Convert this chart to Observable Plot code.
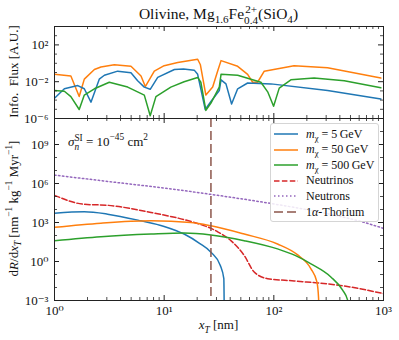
<!DOCTYPE html>
<html><head><meta charset="utf-8">
<script src="https://cdn.jsdelivr.net/npm/d3@7"></script>
<script src="https://cdn.jsdelivr.net/npm/@observablehq/plot@0.6"></script>
<style>
body{margin:0;background:#fff;}
#wrap{position:relative;width:399px;height:340px;font-family:"Liberation Serif","DejaVu Serif",serif;color:#111;overflow:hidden;}
#wrap svg{position:absolute;left:0;top:0;background:transparent;}
.abs{position:absolute;white-space:nowrap;line-height:1;}
.ss{display:inline-flex;flex-direction:column;vertical-align:0.5em;font-size:0.72em;line-height:1.0;}
sub,sup{font-size:0.72em;line-height:0;}
#legend{position:absolute;left:270px;top:123px;width:107px;height:97px;border:1px solid #d5d5d5;border-radius:3px;background:rgba(255,255,255,0.85);}
.row{position:absolute;left:3px;height:14px;font-size:12px;display:flex;align-items:center;white-space:nowrap;}
.row svg{position:static !important;margin-right:8px;}
</style></head><body>
<div id="wrap"></div>
<script>
// ---------------- data ----------------
const massLabels = ["5", "50", "500"];
const seriesColors = ["#1f77b4", "#ff7f0e", "#2ca02c"];

// top panel: information flux (A.U.)
const xTopBlue   = [1, 1.23, 1.63, 1.87, 2.15, 2.56, 2.85, 3.77, 4.98, 5.73, 6.59, 7.46, 8.73, 12.4, 15, 18.8, 20.2, 23.7, 26.7, 31.8, 33.0, 36.6, 41.2, 46.8, 57.7, 94.2, 309, 946];
const fluxBlue   = [1.6e-4, 1.7e-3, 3.8e-3, 1.7e-3, 6.0e-5, 1.9e-2, 5.0e-2, 0.14, 9.5e-2, 1.26e-2, 2.6e-3, 1.5e-3, 2.9e-2, 0.21, 0.24, 0.18, 6.3e-2, 9.5e-6, 7.1e-5, 1.1e-3, 1.6e-2, 5.8e-3, 3.7e-5, 1.7e-3, 7.2e-3, 5.8e-3, 1.1e-3, 1.3e-4];
const xTopOrange = [1, 1.41, 1.68, 1.87, 2.31, 2.65, 3.51, 4.98, 6.15, 6.73, 8.13, 10, 13.3, 20.2, 21.4, 24.0, 27.7, 30.7, 33.0, 46.8, 57.7, 64.1, 71.1, 81.8, 153, 309, 946];
const fluxOrange = [6.3e-2, 4.2e-2, 2.5e-4, 1.9e-2, 0.21, 0.40, 0.69, 0.47, 4.2e-2, 3.0e-3, 0.14, 0.55, 1.2, 2.75, 0.69, 3.5e-4, 2.6e-3, 0.14, 1.95, 0.47, 6.3e-2, 8.7e-3, 8.7e-3, 0.14, 0.55, 0.32, 2.5e-2];
const xTopGreen  = [1, 1.23, 1.41, 1.68, 1.87, 2.31, 3.16, 4.65, 6.59, 7.46, 8.41, 11.5, 15.2, 20.2, 21.6, 24.0, 26.7, 31.8, 33.0, 46.8, 76.2, 87.9, 99.5, 112, 143, 233, 439, 946];
const fluxGreen  = [1.1e-3, 9.1e-4, 2.4e-4, 9.5e-6, 3.5e-4, 1.7e-3, 8.7e-3, 2.6e-3, 3.5e-4, 2.0e-6, 2.4e-4, 2.6e-3, 1.0e-2, 2.9e-2, 8.7e-3, 7.6e-6, 4.8e-5, 2.6e-3, 6.3e-2, 5.0e-2, 8.7e-3, 7.9e-4, 2.1e-5, 2.0e-3, 1.6e-2, 2.5e-2, 1.26e-2, 2.2e-3];

// bottom panel: dR/dx_T  [nm^-1 kg^-1 Myr^-1]
const xRateBlue   = [1, 1.87, 3.05, 6.15, 10, 15.2, 21, 26.7, 32.5, 35.0, 35.3];
const rateBlue    = [5.2e3, 6.6e3, 4.4e3, 1.35e3, 500, 130, 25, 5.2, 0.5, 0.048, 1e-4];
const xRateOrange = [1, 2.65, 7.59, 17.5, 26.7, 53.7, 108, 165, 218, 247, 256, 257];
const rateOrange  = [427, 890, 1350, 1000, 560, 129, 22.4, 3.2, 0.275, 0.027, 1.4e-3, 1e-4];
const xRateGreen  = [1, 2.65, 7.59, 15.2, 26.7, 53.7, 108, 158, 218, 331, 424, 471, 480];
const rateGreen   = [40, 81, 129, 155, 110, 40, 9.3, 2.8, 0.66, 0.065, 6.2e-3, 1.05e-3, 1e-4];
const xNeutrino   = [1, 1.87, 3.05, 7.59, 18.8, 26.7, 30.7, 40.6, 53.7, 66.2, 87.9, 153, 439, 1000];
const rateNeutrino= [1.23e5, 2.5e4, 2.1e4, 5.9e3, 1.0e3, 355, 195, 40, 2.9, 0.155, 0.048, 0.032, 0.013, 3.4e-3];
const xNeutron    = [1, 3.16, 13.6, 30.7, 94.4, 300, 622, 1000];
const rateNeutron = [4.4e6, 1.4e6, 3.2e5, 1.23e5, 2.9e4, 5.0e3, 1.2e3, 355];
const thoriumX    = [26.7];

// axes
const xDomain = [1, 1000];
const topYDomain = [1e-6, 1e4];
const botYDomain = [1e-3, 1e11];
const xTickLabels = [1, 10, 100, 1000];
const topYTickLabels = [1e-6, 1e-2, 1e2];
const botYTickLabels = [1e-3, 1, 1e3, 1e6, 1e9];

// ---------------- helpers ----------------
const SUP = {"-":"⁻","0":"⁰","1":"¹","2":"²","3":"³","4":"⁴","5":"⁵","6":"⁶","7":"⁷","8":"⁸","9":"⁹"};
const fmtPow = d => "10" + String(Math.round(Math.log10(d))).split("").map(c => SUP[c]).join("");
const decades = (lo, hi) => d3.range(lo, hi + 1).map(e => Math.pow(10, e));
const minors = (lo, hi) => { const o = []; for (let e = lo; e < hi; e++) for (let k = 2; k <= 9; k++) o.push(k * Math.pow(10, e)); return o; };
const rows = (xs, ys) => xs.map((x, i) => ({x, y: ys[i]}));

const W = 399, ML = 54, MR = 16, innerW = W - ML - MR;
const MAJ = 5, MIN = 3;
const tickColor = "#222";

function frameTicks(innerH, yMajor, yMinor) {
  const xMaj = decades(0, 3), xMin = minors(0, 3);
  return [
    Plot.tickX(xMaj, {x: d => d, insetTop: innerH - MAJ, stroke: tickColor}),
    Plot.tickX(xMaj, {x: d => d, insetBottom: innerH - MAJ, stroke: tickColor}),
    Plot.tickX(xMin, {x: d => d, insetTop: innerH - MIN, stroke: tickColor, strokeWidth: 0.8}),
    Plot.tickX(xMin, {x: d => d, insetBottom: innerH - MIN, stroke: tickColor, strokeWidth: 0.8}),
    Plot.tickY(yMajor, {y: d => d, insetRight: innerW - MAJ, stroke: tickColor}),
    Plot.tickY(yMajor, {y: d => d, insetLeft: innerW - MAJ, stroke: tickColor}),
    Plot.tickY(yMinor, {y: d => d, insetRight: innerW - MIN, stroke: tickColor, strokeWidth: 0.8}),
    Plot.tickY(yMinor, {y: d => d, insetLeft: innerW - MIN, stroke: tickColor, strokeWidth: 0.8}),
    Plot.frame({stroke: "#222", strokeWidth: 1})
  ];
}

const fontStyle = {fontFamily: '"Liberation Serif","DejaVu Serif",serif', fontSize: "13px", background: "transparent", color: "#111"};

// ---------------- top panel ----------------
const topMT = 26, topH = 132, topMB = topH - 118;
const topInnerH = 118 - topMT;
const topPlot = Plot.plot({
  width: W, height: topH, marginLeft: ML, marginRight: MR, marginTop: topMT, marginBottom: topMB,
  style: fontStyle,
  x: {type: "log", domain: xDomain, axis: null},
  y: {type: "log", domain: topYDomain, axis: null},
  marks: [
    Plot.line(rows(xTopOrange, fluxOrange), {x: "x", y: "y", stroke: seriesColors[1], strokeWidth: 1.5, clip: true}),
    Plot.line(rows(xTopBlue, fluxBlue), {x: "x", y: "y", stroke: seriesColors[0], strokeWidth: 1.5, clip: true}),
    Plot.line(rows(xTopGreen, fluxGreen), {x: "x", y: "y", stroke: seriesColors[2], strokeWidth: 1.5, clip: true}),
    ...frameTicks(topInnerH, topYTickLabels, decades(-5, 3).filter(d => !topYTickLabels.includes(d))),
    Plot.axisY({ticks: topYTickLabels, tickFormat: fmtPow, tickSize: 0, tickPadding: 6, label: null})
  ]
});

// ---------------- bottom panel ----------------
const botMT = 118, botH = 340, botMB = 40;
const botInnerH = botH - botMT - botMB;
const botPlot = Plot.plot({
  width: W, height: botH, marginLeft: ML, marginRight: MR, marginTop: botMT, marginBottom: botMB,
  style: fontStyle,
  x: {type: "log", domain: xDomain},
  y: {type: "log", domain: botYDomain},
  marks: [
    Plot.line(rows(xNeutron, rateNeutron), {x: "x", y: "y", stroke: "#9467bd", strokeWidth: 1.5, strokeDasharray: "1.5,2.5", curve: "monotone-x", clip: true}),
    Plot.line(rows(xNeutrino, rateNeutrino), {x: "x", y: "y", stroke: "#d62728", strokeWidth: 1.5, strokeDasharray: "5.5,2.4", curve: "monotone-x", clip: true}),
    Plot.line(rows(xRateBlue, rateBlue), {x: "x", y: "y", stroke: seriesColors[0], strokeWidth: 1.5, curve: "monotone-x", clip: true}),
    Plot.line(rows(xRateOrange, rateOrange), {x: "x", y: "y", stroke: seriesColors[1], strokeWidth: 1.5, curve: "monotone-x", clip: true}),
    Plot.line(rows(xRateGreen, rateGreen), {x: "x", y: "y", stroke: seriesColors[2], strokeWidth: 1.5, curve: "monotone-x", clip: true}),
    Plot.ruleX(thoriumX, {x: d => d, stroke: "#8c564b", strokeWidth: 1.5, strokeDasharray: "9,4"}),
    ...frameTicks(botInnerH, decades(-3, 11).filter((d, i) => i % 3 === 0), decades(-3, 11).filter((d, i) => i % 3 !== 0)),
    Plot.axisY({ticks: botYTickLabels, tickFormat: fmtPow, tickSize: 0, tickPadding: 6, label: null}),
    Plot.axisX({ticks: xTickLabels, tickFormat: fmtPow, tickSize: 0, tickPadding: 5, label: null})
  ]
});

const wrap = document.getElementById("wrap");
wrap.appendChild(botPlot);
wrap.appendChild(topPlot);

// ---------------- text overlays ----------------
function addHTML(html, css) {
  const d = document.createElement("div");
  d.className = "abs";
  d.innerHTML = html;
  Object.assign(d.style, css);
  wrap.appendChild(d);
  return d;
}
addHTML('Olivine, Mg<sub>1.6</sub>Fe<span class="ss"><span>2+</span><span>0.4</span></span>(SiO<sub>4</sub>)',
  {left: ML + "px", width: innerW + "px", top: "4px", textAlign: "center", fontSize: "15.5px"});
addHTML('Info.&nbsp; Flux [A.U.]', {left: (13 - 60) + "px", width: "120px", top: (72 - 7) + "px", fontSize: "13px", transform: "rotate(-90deg)", textAlign: "center"});
addHTML('d<i>R</i>/d<i>x<sub>T</sub></i> [nm<sup>−1</sup> kg<sup>−1</sup> Myr<sup>−1</sup>]',
  {left: (13 - 100) + "px", width: "200px", top: (209 - 7) + "px", fontSize: "13px", transform: "rotate(-90deg)", textAlign: "center"});
addHTML('<i>x<sub>T</sub></i> [nm]', {left: ML + "px", width: innerW + "px", top: "318px", textAlign: "center", fontSize: "13px"});
addHTML('<i>σ</i><span class="ss"><span>SI</span><span><i>n</i></span></span> = 10<sup>−45</sup> cm<sup>2</sup>',
  {left: "68px", top: "134px", fontSize: "13px"});

// legend
const legend = document.createElement("div");
legend.id = "legend";
wrap.appendChild(legend);
const legendItems = [
  {html: '<i>m</i><sub>χ</sub> = ' + massLabels[0] + '&thinsp;GeV', color: seriesColors[0], dash: null},
  {html: '<i>m</i><sub>χ</sub> = ' + massLabels[1] + '&thinsp;GeV', color: seriesColors[1], dash: null},
  {html: '<i>m</i><sub>χ</sub> = ' + massLabels[2] + '&thinsp;GeV', color: seriesColors[2], dash: null},
  {html: 'Neutrinos', color: "#d62728", dash: "5.5,2.4"},
  {html: 'Neutrons', color: "#9467bd", dash: "1.5,2.5"},
  {html: '1<i>α</i>-Thorium', color: "#8c564b", dash: "9,4"}
];
legendItems.forEach((it, i) => {
  const r = document.createElement("div");
  r.className = "row";
  r.style.top = (3 + i * 15.6) + "px";
  r.innerHTML = `<svg width="24" height="6"><line x1="0" x2="24" y1="3" y2="3" stroke="${it.color}" stroke-width="1.5" ${it.dash ? `stroke-dasharray="${it.dash}"` : ""}/></svg><span>${it.html}</span>`;
  legend.appendChild(r);
});
</script>
</body></html>
